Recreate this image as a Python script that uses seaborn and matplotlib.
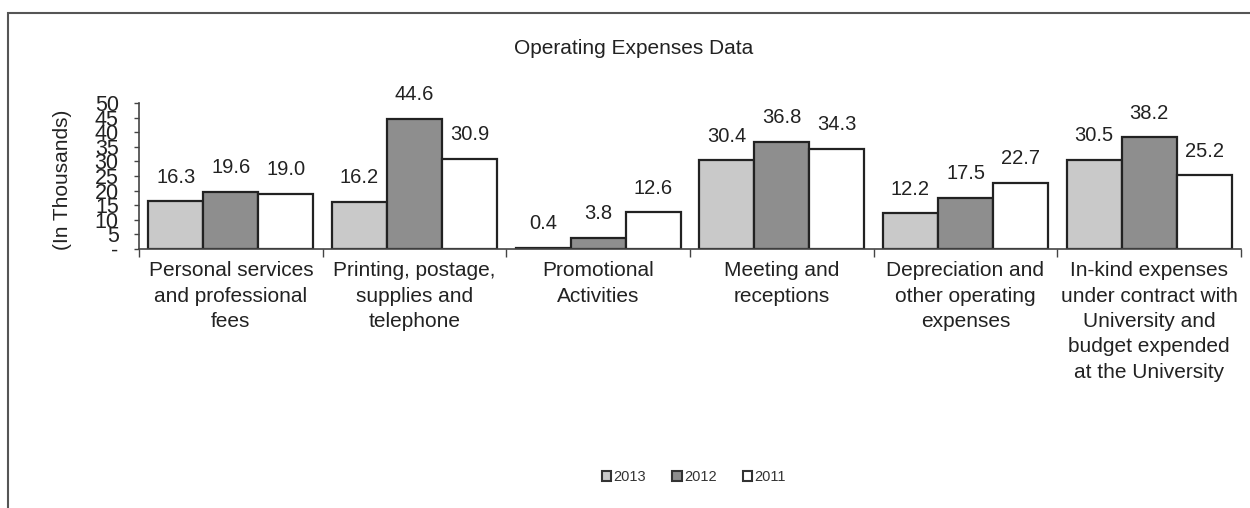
import matplotlib
matplotlib.use("Agg")
import matplotlib.pyplot as plt
import seaborn as sns
import pandas as pd
from matplotlib.patches import Rectangle, Patch
from matplotlib.ticker import FixedLocator, FuncFormatter

categories = [
    "Personal services\nand professional\nfees",
    "Printing, postage,\nsupplies and\ntelephone",
    "Promotional\nActivities",
    "Meeting and\nreceptions",
    "Depreciation and\nother operating\nexpenses",
    "In-kind expenses\nunder contract with\nUniversity and\nbudget expended\nat the University",
]
years = ["2013", "2012", "2011"]
values_2013 = [16.3, 16.2, 0.4, 30.4, 12.2, 30.5]
values_2012 = [19.6, 44.6, 3.8, 36.8, 17.5, 38.2]
values_2011 = [19.0, 30.9, 12.6, 34.3, 22.7, 25.2]
y_ticks = [0, 5, 10, 15, 20, 25, 30, 35, 40, 45, 50]
colors = ["#c9c9c9", "#8e8e8e", "#ffffff"]

rows = []
for yr, vals in zip(years, [values_2013, values_2012, values_2011]):
    for c, v in zip(categories, vals):
        rows.append({"category": c, "year": yr, "value": v})
df = pd.DataFrame(rows)

sns.set_theme(style="white")
plt.rcParams["font.family"] = ["Liberation Sans", "DejaVu Sans"]

W, H = 1250, 508
fig = plt.figure(figsize=(12.5, 5.08), dpi=100)
ax = fig.add_axes([139/W, 1-249/H, (1241-139)/W, (249-103)/H])

sns.barplot(data=df, x="category", y="value", hue="year", order=categories,
            hue_order=years, palette=colors, edgecolor="#222222", linewidth=1.6,
            width=0.9, gap=0, ax=ax, legend=False)

for cont in ax.containers:
    ax.bar_label(cont, fmt="%.1f", padding=10.5, fontsize=14.5, color="#222222")

ax.set_xlim(-0.5, len(categories) - 0.5)
ax.set_ylim(0, 50)
ax.yaxis.set_major_locator(FixedLocator(y_ticks))
ax.yaxis.set_major_formatter(FuncFormatter(lambda v, p: "-" if v == 0 else f"{int(v)}"))
ax.tick_params(axis="y", labelsize=15.5, length=3.6, width=1, color="#444444", left=True,
               pad=11, labelcolor="#222222")
ax.set_xticks(range(len(categories)))
ax.set_xticklabels(categories, fontsize=15, color="#222222", linespacing=1.42)
ax.tick_params(axis="x", length=0, pad=9)
ax.set_xticks([i - 0.5 for i in range(len(categories) + 1)], minor=True)
ax.tick_params(axis="x", which="minor", length=6, width=1, color="#444444", bottom=True)
ax.set_xlabel("")
ax.set_ylabel("")
for s in ["top", "right"]:
    ax.spines[s].set_visible(False)
for s in ["left", "bottom"]:
    ax.spines[s].set_color("#444444")
    ax.spines[s].set_linewidth(1.2)

fig.text(62/W, 1-180/H, "(In Thousands)", rotation=90, ha="center", va="center",
         fontsize=15, color="#222222")

fig.text(634/W, 1-48/H, "Operating Expenses Data", ha="center", va="center",
         fontsize=15, color="#222222")

handles = [Patch(facecolor=c, edgecolor="#333333", linewidth=1.5) for c in colors]
fig.legend(handles, years, loc="center", bbox_to_anchor=(694/W, 1-477/H), ncol=3,
           frameon=False, fontsize=10.5, handlelength=0.65, handleheight=0.65,
           handletextpad=0.15, columnspacing=1.8, labelcolor="#333333")

fig.patches.append(Rectangle((8/W, -0.05), 1.2, 1-13/H+0.05, transform=fig.transFigure,
                             fill=False, edgecolor="#555555", linewidth=1.5))

fig.savefig("out.png", dpi=100)
